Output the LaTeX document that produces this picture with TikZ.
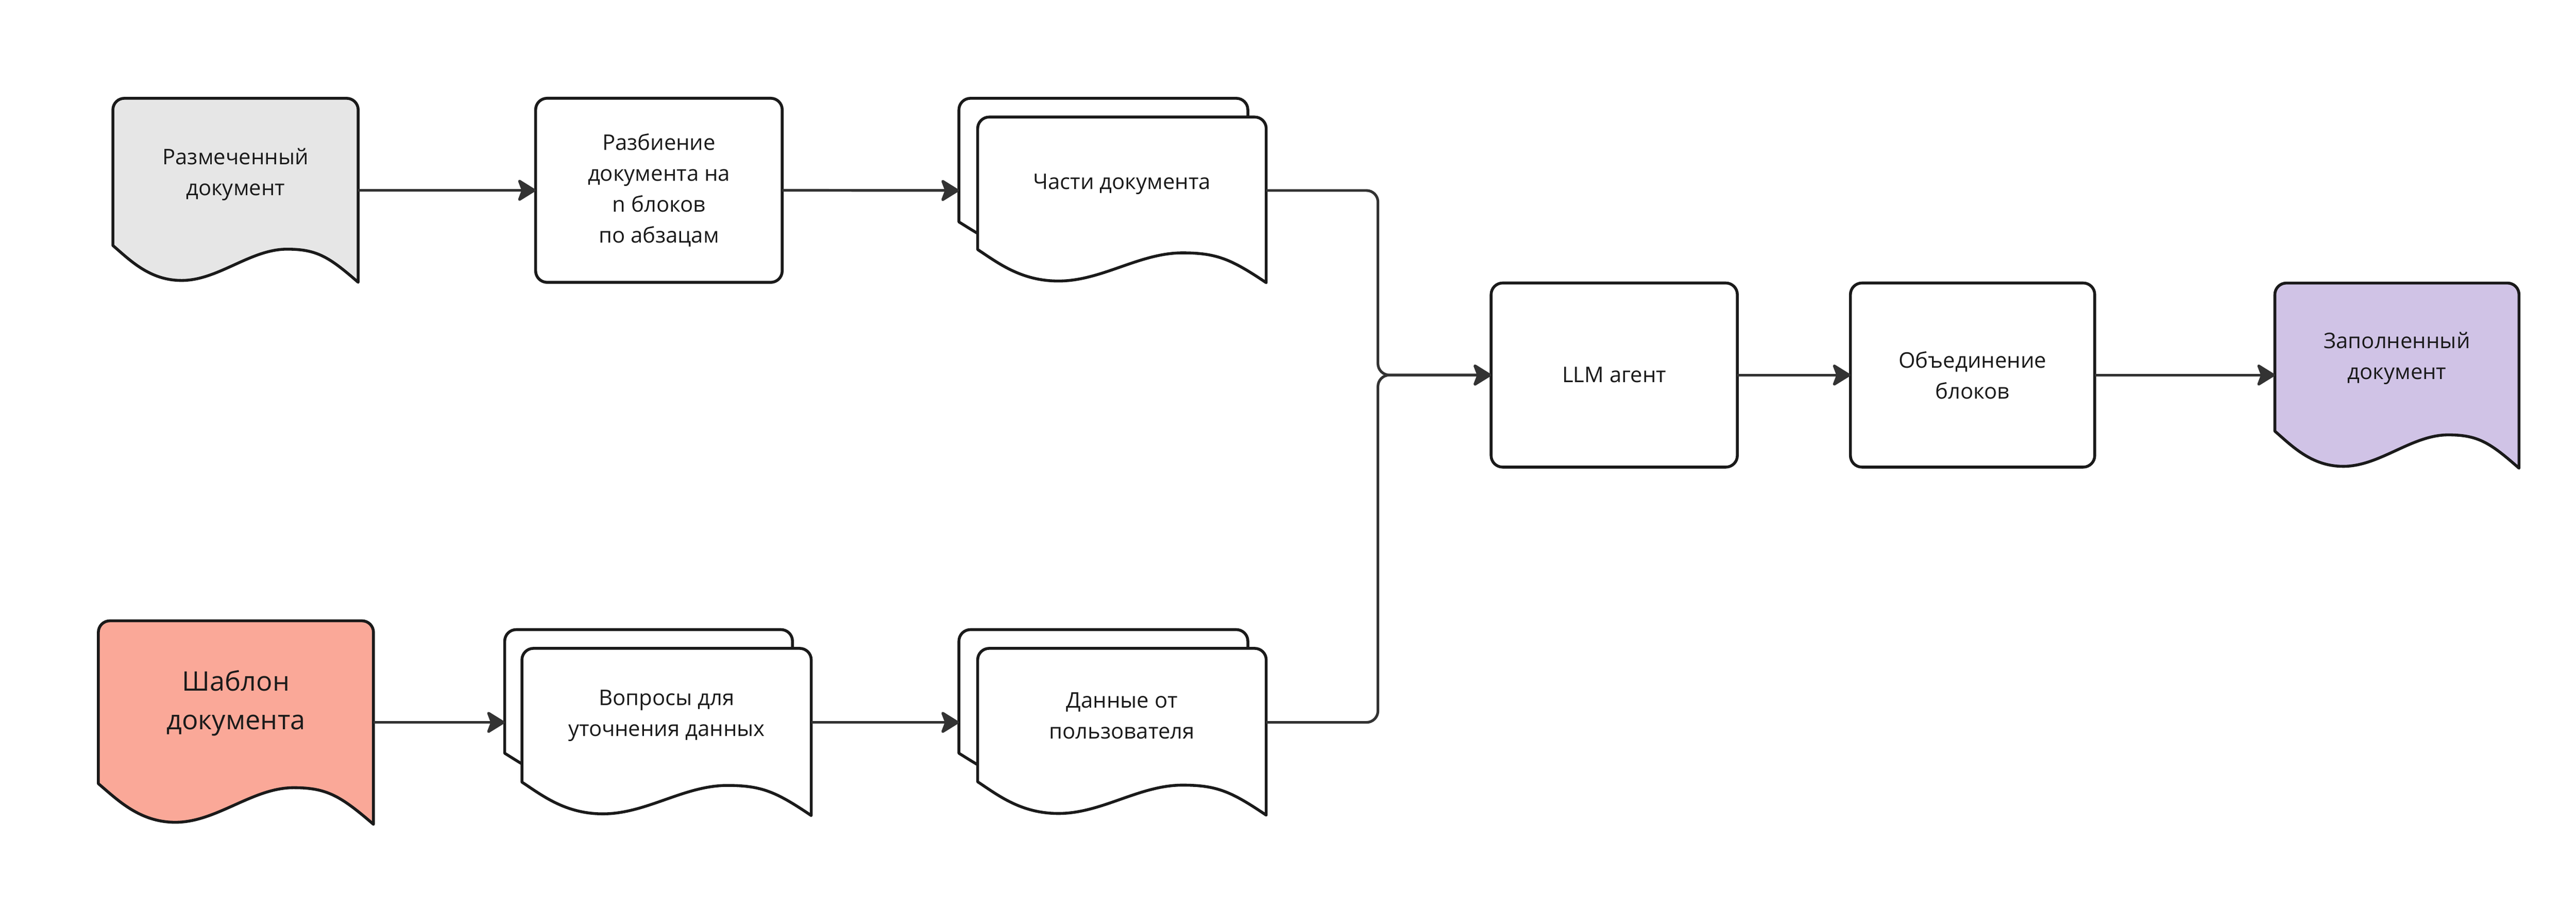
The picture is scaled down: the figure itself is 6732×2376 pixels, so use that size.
\documentclass[tikz,border=0pt]{standalone}
\usepackage{fontspec}
\setmainfont{Open Sans}
\usetikzlibrary{arrows.meta,fit}
\definecolor{strk}{HTML}{1A1A1A}
\definecolor{lnk}{HTML}{333333}
\definecolor{txtc}{HTML}{1A1A1A}
\definecolor{grayfill}{HTML}{E6E6E6}
\definecolor{salmonfill}{HTML}{FAA898}
\definecolor{lavfill}{HTML}{D0C3E6}
\newcommand\txtfont{\fontsize{16}{23}\selectfont}
\newcommand\bigtxtfont{\fontsize{20}{28.5}\selectfont}
% document shape: X Y W H fill
\newcommand\docshape[5]{%
  \path[shapeline,fill=#5] (#1,#2+0.8*#4) [rounded corners=0.3cm] -- (#1,#2) -- (#1+#3,#2) [sharp corners] -- (#1+#3,#2+#4)
  .. controls (#1+0.88*#3,#2+0.86*#4) and (#1+0.83*#3,#2+0.82*#4) .. (#1+0.71*#3,#2+0.82*#4)
  .. controls (#1+0.56*#3,#2+0.82*#4) and (#1+0.43*#3,#2+0.99*#4) .. (#1+0.28*#3,#2+0.99*#4)
  .. controls (#1+0.15*#3,#2+0.99*#4) and (#1+0.07*#3,#2+0.88*#4) .. cycle;}
\begin{document}
\begin{tikzpicture}[x=0.01cm,y=-0.01cm,
  shapeline/.style={draw=strk,line width=0.075cm,line join=round},
  box/.style={shapeline,rounded corners=0.3cm,fill=white,inner sep=0pt,outer sep=0pt,align=center,font=\txtfont,text=txtc,minimum height=4.81cm},
  bb/.style={inner sep=0pt,outer sep=0pt},
  lbl/.style={align=center,font=\txtfont,text=txtc,inner sep=0pt},
  conn/.style={draw=lnk,line width=0.07cm,-{Stealth[length=0.52cm,width=0.64cm,inset=0.12cm,round]}}]
\useasboundingbox (0,0) rectangle (6732,2376);
\fill[white] (0,0) rectangle (6732,2376);

% --- top row ---
\docshape{295}{257}{641}{481}{grayfill}
\node[bb,fit={(295,257) (936,738)}] (raz) {};
\node[lbl] (razt) at (615.5,456) {Размеченный\\документ};

\node[box,minimum width=6.44cm] (razb) at (1722,497.5) {Разбиение\\документа на\\n блоков\\по абзацам};

\docshape{2506}{257}{755}{404}{white}
\docshape{2555}{306}{754}{433}{white}
\node[bb,fit={(2506,257) (3309,739)}] (chasti) {};
\node[lbl] (chastit) at (2932,482) {Части документа};

% --- middle row ---
\node[box,minimum width=6.43cm] (llm) at (4218.5,980.5) {LLM агент};
\node[box,minimum width=6.38cm] (obed) at (5155,980.5) {Объединение\\блоков};

\docshape{5945}{740}{638}{484}{lavfill}
\node[bb,fit={(5945,740) (6583,1221)}] (zap) {};
\node[lbl] (zapt) at (6264,937) {Заполненный\\документ};

% --- bottom row ---
\docshape{257}{1623}{719}{532}{salmonfill}
\node[bb,fit={(257,1623) (976,2154)}] (shab) {};
\node[lbl,font=\bigtxtfont] (shabt) at (616.5,1838) {Шаблон\\документа};

\docshape{1319}{1646}{752}{404}{white}
\docshape{1364}{1695}{756}{437}{white}
\node[bb,fit={(1319,1646) (2120,2131)}] (vopr) {};
\node[lbl] (voprt) at (1742,1871) {Вопросы для\\уточнения данных};

\docshape{2506}{1646}{755}{404}{white}
\docshape{2555}{1695}{754}{436}{white}
\node[bb,fit={(2506,1646) (3309,2131)}] (dann) {};
\node[lbl] (dannt) at (2932,1871) {Данные от\\пользователя};

% --- connectors ---
\coordinate (mx) at (3601,980.5);
\draw[conn] (raz.east) -- (razb.west);
\draw[conn] (razb.east) -- (chasti.west);
\draw[conn,rounded corners=0.3cm] (chasti.east) -| (mx) -- (llm.west);
\draw[conn,rounded corners=0.3cm] (dann.east) -| (mx) -- (llm.west);
\draw[conn] (llm.east) -- (obed.west);
\draw[conn] (obed.east) -- (zap.west);
\draw[conn] (shab.east) -- (vopr.west);
\draw[conn] (vopr.east) -- (dann.west);
\end{tikzpicture}
\end{document}
